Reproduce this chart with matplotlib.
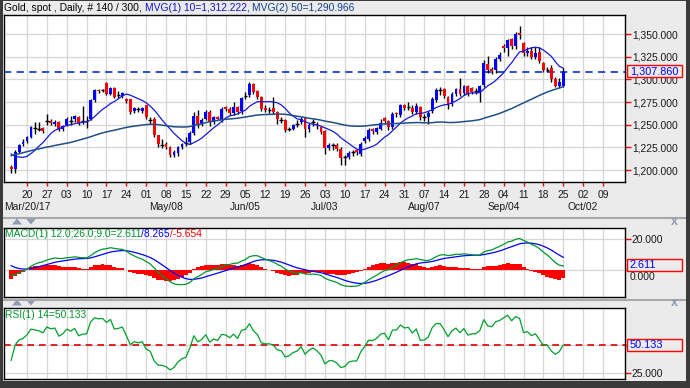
import numpy as np
import pandas as pd
import matplotlib
matplotlib.use("Agg")
import matplotlib.pyplot as plt
from matplotlib.patches import Rectangle, Polygon
from matplotlib.lines import Line2D

# ---------------- data ----------------
start_date = "2017-03-14"
end_date = "2017-09-25"
axis_end_date = "2017-10-13"

opens = [1203, 1201.5, 1220, 1228.5, 1231.5, 1236.5, 1246.5, 1245.5, 1246, 1254,
         1254.5, 1251, 1253, 1245, 1250, 1254.5, 1256, 1259, 1254, 1254.5,
         1256.6, 1276.8, 1288.6, 1287.9, 1296, 1284.2, 1290.4, 1282.4, 1281.6, 1278.7,
         1277.9, 1264.7, 1266.9, 1264.7, 1271.3, 1255.5, 1256.6, 1238.2, 1228, 1229,
         1225, 1217, 1219, 1225, 1230, 1231, 1241, 1260, 1251, 1256.6,
         1264, 1253, 1258.5, 1254.8, 1269.1, 1267.6, 1263.2, 1269.5, 1264.7, 1281.6,
         1282.4, 1294.5, 1286.8, 1280.5, 1268.4, 1266, 1268.4, 1264, 1254.8, 1254.8,
         1245.6, 1245.6, 1251.1, 1252.9, 1257.4, 1244.9, 1252.9, 1250, 1247.4, 1242.6,
         1224.3, 1228, 1228, 1223.5, 1214.3, 1214.3, 1219.9, 1221.7, 1218, 1231.6,
         1234.6, 1245, 1241.9, 1245.6, 1257.4, 1253.7, 1247.4, 1263, 1261, 1271.3,
         1269.5, 1268.4, 1264, 1269, 1258.5, 1259, 1264.7, 1276.8, 1287.9, 1289,
         1280.5, 1273.2, 1284.2, 1289.7, 1285.3, 1292.3, 1290, 1286.8, 1286, 1293.4,
         1317.3, 1311, 1309.9, 1322.8, 1337, 1334.6, 1344, 1336.5, 1350.8, 1340,
         1329, 1331, 1325, 1330, 1318, 1310.5, 1312, 1300, 1293, 1293.2]
highs = [1205.5, 1222, 1229, 1234, 1238, 1248.5, 1252.5, 1253.5, 1247, 1262,
         1256, 1255, 1254.5, 1250, 1258, 1260, 1261, 1260, 1271, 1260,
         1278, 1289, 1289.5, 1289, 1297, 1292, 1291.5, 1287, 1286.5, 1280,
         1278.5, 1269.5, 1270, 1270, 1272, 1259, 1258, 1239, 1234, 1231,
         1226, 1222, 1226, 1230, 1236, 1243, 1264, 1265.8, 1257, 1266,
         1266, 1260, 1260, 1269, 1271, 1269, 1275, 1271, 1281, 1286,
         1297, 1296, 1288, 1282, 1272, 1269, 1281, 1265, 1258, 1256,
         1248, 1251, 1255, 1258, 1259, 1252, 1256, 1253, 1249, 1244,
         1230, 1230, 1230, 1225, 1217, 1221, 1222, 1223, 1231, 1237,
         1246, 1246, 1248, 1256, 1259, 1255, 1264, 1264, 1273, 1273,
         1275, 1272, 1274, 1271, 1262, 1265, 1281, 1290, 1291.5, 1290,
         1282, 1286, 1291, 1301.5, 1294, 1294, 1292, 1290, 1294, 1321,
         1326, 1314, 1325, 1330, 1339, 1345, 1346, 1352, 1358.8, 1341,
         1336, 1336, 1336, 1336, 1319, 1314, 1316, 1303, 1301, 1313]
lows = [1197, 1197, 1219, 1227, 1230, 1235, 1240, 1243, 1241, 1250,
        1250, 1249, 1243, 1243, 1249, 1250, 1253, 1250, 1251, 1246,
        1255, 1275, 1285, 1286.5, 1283, 1283, 1279.5, 1280, 1280, 1274,
        1262, 1263, 1264, 1263, 1256, 1251, 1236, 1225.4, 1224, 1223,
        1214, 1214, 1216, 1223, 1227, 1229, 1239, 1246, 1249, 1255,
        1249, 1251, 1255, 1253, 1265, 1261, 1261, 1262, 1262, 1278,
        1281, 1284, 1278, 1265, 1264, 1263, 1262, 1251, 1252, 1242,
        1243, 1244, 1248, 1251, 1236.4, 1242, 1249, 1245, 1240, 1218,
        1222, 1222, 1221, 1205, 1205, 1212, 1216, 1217, 1216, 1230,
        1232, 1240, 1240, 1244, 1251, 1244, 1245, 1259, 1259, 1266,
        1266, 1262, 1262, 1255, 1254, 1251, 1263, 1275, 1283, 1280,
        1267.6, 1271, 1282, 1282, 1283, 1282, 1284, 1284, 1275, 1292,
        1307, 1306, 1307, 1320, 1330, 1326, 1333, 1334, 1344, 1326,
        1326, 1323, 1322, 1318, 1308, 1308, 1297, 1292, 1291, 1292]
closes = [1201.5, 1220, 1228, 1230.5, 1236.5, 1247.5, 1246.5, 1245.5, 1243.4, 1254,
          1252, 1253.5, 1245, 1248.5, 1256.6, 1254.5, 1259.2, 1251.5, 1254, 1254.5,
          1276.8, 1287.9, 1286.8, 1287.9, 1284.2, 1290.8, 1281, 1282.4, 1285, 1275.7,
          1264, 1268.4, 1266.9, 1268.4, 1258.5, 1255.5, 1238.2, 1228.5, 1228, 1225,
          1217, 1219.5, 1225, 1228.5, 1230, 1241, 1260, 1251, 1255.5, 1264,
          1253, 1258.5, 1256.6, 1267.6, 1266.9, 1263.2, 1269.5, 1264, 1279.4, 1281.6,
          1295.2, 1286, 1280.5, 1267.6, 1265.8, 1266, 1264, 1256.6, 1254.8, 1243.8,
          1245.6, 1249.3, 1251.1, 1256.6, 1244.9, 1250, 1252.9, 1248.5, 1241.9, 1224.3,
          1228, 1228, 1223.5, 1213.2, 1214.3, 1218.8, 1219.9, 1219.9, 1229, 1235.3,
          1243.8, 1243.4, 1246.3, 1252.2, 1253.7, 1247, 1262, 1262, 1271.3, 1268.4,
          1269.5, 1264, 1270.6, 1258, 1258.5, 1262.5, 1278.7, 1287.9, 1287.9, 1281.6,
          1273.2, 1284.2, 1289.7, 1284.2, 1292.3, 1284.2, 1286.5, 1286.8, 1292.3, 1318.4,
          1310.7, 1309.5, 1322.8, 1326.5, 1334.6, 1343.5, 1337, 1350.4, 1348.5, 1329,
          1331, 1325, 1329, 1320, 1310, 1310.5, 1300, 1293, 1297, 1307.86]
# closes before the visible window (indicator warm-up)
warmup_close = [1139, 1133, 1131, 1131, 1133, 1133, 1139, 1140, 1158, 1152,
                1151, 1160, 1164, 1180, 1173, 1184, 1185, 1196, 1197, 1196,
                1203, 1217, 1202, 1201, 1209, 1216, 1211, 1199, 1189, 1191,
                1196, 1210, 1209, 1219, 1219, 1233, 1236, 1242, 1226, 1234,
                1226, 1228, 1233, 1240, 1235, 1237, 1236, 1237, 1250, 1257,
                1253, 1248, 1248, 1234, 1234, 1226, 1216, 1209, 1202, 1204, 1203]

price_ticks = [1200, 1225, 1250, 1275, 1300, 1325, 1350]
macd_ticks = [0, 20]
rsi_ticks = [25, 50]
day_labels = ["20", "27", "03", "10", "17", "24", "01", "08", "15", "22", "29", "05",
              "12", "19", "26", "03", "10", "17", "24", "31", "07", "14", "21", "28",
              "04", "11", "18", "25", "02", "09"]
month_label_dates = ["2017-03-20", "2017-05-08", "2017-06-05", "2017-07-03",
                     "2017-08-07", "2017-09-04", "2017-10-02"]
month_labels = ["Mar/20/17", "May/08", "Jun/05", "Jul/03", "Aug/07", "Sep/04", "Oct/02"]

title_text = "Gold, spot , Daily, # 140 / 300, "
mvg1_text = "MVG(1) 10=1,312.222, "
mvg2_text = "MVG(2) 50=1,290.966"
last_price = 1307.86
last_price_text = "1,307.860"
macd_texts = ["MACD(1) 12.0;26.0;9.0=2.611", "/8.265", "/-5.654"]
macd_last_text = "2.611"
rsi_text = "RSI(1) 14=50.133"
rsi_last = 50.133
rsi_last_text = "50.133"

# ---------------- computations ----------------
dates = pd.bdate_range(start_date, end_date)
all_days = pd.bdate_range(start_date, axis_end_date)
xi = np.arange(len(dates))
o = np.array(opens); h = np.array(highs); l = np.array(lows); c = np.array(closes)

n0 = len(warmup_close)
allc = pd.Series(warmup_close + closes, dtype=float)
ma10 = allc.rolling(10).mean().values[n0:]
ma50 = allc.rolling(50).mean().values[n0:]
ema12 = allc.ewm(span=12, adjust=False).mean()
ema26 = allc.ewm(span=26, adjust=False).mean()
macd = ema12 - ema26
signal = macd.ewm(span=9, adjust=False).mean()
hist = (macd - signal).values[n0:]
macd_v = macd.values[n0:]
signal_v = signal.values[n0:]
delta = allc.diff().fillna(0)
gain = delta.clip(lower=0)
loss = (-delta).clip(lower=0)
ag = gain.ewm(alpha=1 / 14, adjust=False).mean()
al = loss.ewm(alpha=1 / 14, adjust=False).mean()
rsi = (100 - 100 / (1 + ag / al)).values[n0:]

mondays = [i for i, d in enumerate(all_days) if d.weekday() == 0 and d >= pd.Timestamp("2017-03-20")]
month_pos = [list(all_days).index(pd.Timestamp(d)) for d in month_label_dates]

# ---------------- figure ----------------
W, H = 690, 388
BG = "#ebebeb"
FONT = ["Liberation Sans", "DejaVu Sans"]
FS = 7.4
fig = plt.figure(figsize=(W / 100, H / 100), dpi=100, facecolor=BG)


def fx(x):
    return x / W


def fy(y):
    return 1 - y / H


def px_axes(x0, y0, x1, y1):
    return fig.add_axes([fx(x0), fy(y1), (x1 - x0) / W, (y1 - y0) / H])


XLIM = (-1.8, 154.55)
GRID = "#d6d6d6"


def style_panel(ax, ylim, yticks, labels):
    ax.set_facecolor("white")
    ax.set_xlim(*XLIM)
    ax.set_ylim(*ylim)
    ax.set_xticks(mondays)
    ax.set_yticks(yticks)
    ax.yaxis.tick_right()
    ax.set_yticklabels(labels, fontsize=FS, family=FONT, color="#1a1a1a")
    ax.tick_params(axis="y", colors="#ff0000", length=4, width=1, pad=1, labelcolor="#1a1a1a")
    ax.grid(True, color=GRID, lw=0.9)
    ax.set_axisbelow(True)
    for s in ax.spines.values():
        s.set_color("black")
        s.set_linewidth(1.0)


# main panel
ax = px_axes(4, 15, 625, 182)
style_panel(ax, (1186.8, 1371.0), price_ticks, [f"{v:,.3f}" for v in price_ticks])
ax.set_xticklabels(day_labels, fontsize=FS, family=FONT, color="#1a1a1a")
ax.tick_params(axis="x", colors="#ff0000", length=3, width=1, pad=2.5, labelcolor="#1a1a1a")

ax.axhline(last_price, color="#1f3fd0", lw=1.3, ls=(0, (4, 3)), zorder=1.5)
ax.vlines(xi, l, h, color="black", lw=1, zorder=2)
up = c > o + 0.2
dn = c < o - 0.2
dj = ~(up | dn)
ax.bar(xi[up], (c - o)[up], bottom=o[up], width=0.72, color="#0000ff", lw=0, zorder=3)
ax.bar(xi[dn], (c - o)[dn], bottom=o[dn], width=0.72, color="#ff0000", lw=0, zorder=3)
ax.hlines(c[dj], xi[dj] - 0.45, xi[dj] + 0.45, color="black", lw=1, zorder=3)
ax.plot(xi, ma10, color="#1818d8", lw=0.9, zorder=4)
ax.plot(xi, ma50, color="#1f4f86", lw=1.1, zorder=4)

# month labels
for pos, lab in zip(month_pos, month_labels):
    xpx = 27 + (pos - 4) * 3.972
    fig.text(fx(xpx), fy(207), lab, fontsize=FS, family=FONT, color="#1a1a1a",
             ha="center", va="center")

# MACD panel
axm = px_axes(4, 228, 625, 297)
style_panel(axm, (-18.2, 27.5), macd_ticks, ["", "20.000"])
axm.tick_params(axis="x", length=0, labelbottom=False)
axm.bar(xi, hist, width=1.0, color="#ff0000", lw=0, zorder=2)
axm.plot(xi, signal_v, color="#0000ff", lw=0.9, zorder=3)
axm.plot(xi, macd_v, color="#00962d", lw=0.9, zorder=3)

# RSI panel
axr = px_axes(4, 308, 625, 379)
style_panel(axr, (19.7, 82.4), rsi_ticks, ["25.000", ""])
axr.tick_params(axis="x", length=0, labelbottom=False)
axr.axhline(rsi_last, color="#e00000", lw=1.2, ls=(0, (4, 3)), zorder=2)
axr.plot(xi, rsi, color="#00a02a", lw=0.9, zorder=3)

renderer = fig.canvas.get_renderer()


def color_text(x_px, y_px, parts):
    x = x_px
    for s, col in parts:
        t = fig.text(fx(x), fy(y_px), s, color=col, fontsize=FS, family=FONT,
                     ha="left", va="center", zorder=10)
        x += t.get_window_extent(renderer=renderer).width


color_text(4, 8, [(title_text, "#000000"), (mvg1_text, "#1414c8"), (mvg2_text, "#14408c")])
color_text(5, 234, [(macd_texts[0], "#00962d"), (macd_texts[1], "#0000ff"), (macd_texts[2], "#ff0000")])
color_text(5, 315, [(rsi_text, "#00962d")])

# MACD zero label, peeking out just below the value box
fig.text(fx(630), fy(276.5), "0.000", fontsize=FS, family=FONT, color="#1a1a1a",
         ha="left", va="center", zorder=7)


def value_box(y0, y1, txt):
    fig.add_artist(Rectangle((fx(627), fy(y1)), (682 - 627) / W, (y1 - y0) / H,
                             transform=fig.transFigure, facecolor=BG, edgecolor="#ff0000",
                             lw=1.0, zorder=8))
    fig.text(fx(630), fy((y0 + y1) / 2), txt, fontsize=FS + 0.4, family=FONT,
             color="#0000ff", ha="left", va="center", zorder=9)


value_box(65, 77, last_price_text)
value_box(259, 271, macd_last_text)
value_box(339, 351, rsi_last_text)

# separators, arrows, close marks
for ysep in (218, 300):
    fig.add_artist(Line2D([fx(3), fx(686)], [fy(ysep), fy(ysep)], color="#a8a8a8", lw=1.5,
                          transform=fig.transFigure))
for ya in (221.5, 302.5):
    fig.add_artist(Polygon([(fx(12), fy(ya + 3)), (fx(22), fy(ya + 3)), (fx(17), fy(ya - 3))],
                           closed=True, transform=fig.transFigure, color="#8c9ab6", lw=0))
    fig.add_artist(Polygon([(fx(26), fy(ya - 3)), (fx(36), fy(ya - 3)), (fx(31), fy(ya + 3))],
                           closed=True, transform=fig.transFigure, color="#8c9ab6", lw=0))
for yx in (222, 303):
    fig.text(fx(674), fy(yx), "x", fontsize=9, weight="bold", family=FONT,
             color="#8c9ab6", ha="center", va="center")

# dark outer frame
DARK = "#3a3a3a"
for (x0, y0, x1, y1) in [(0, 0, 3, 388), (686, 0, 690, 388), (0, 381, 690, 388), (0, 0, 690, 1)]:
    fig.add_artist(Rectangle((fx(x0), fy(y1)), (x1 - x0) / W, (y1 - y0) / H,
                             transform=fig.transFigure, facecolor=DARK, lw=0, zorder=20))

fig.savefig("out.png", dpi=100, facecolor=BG)
